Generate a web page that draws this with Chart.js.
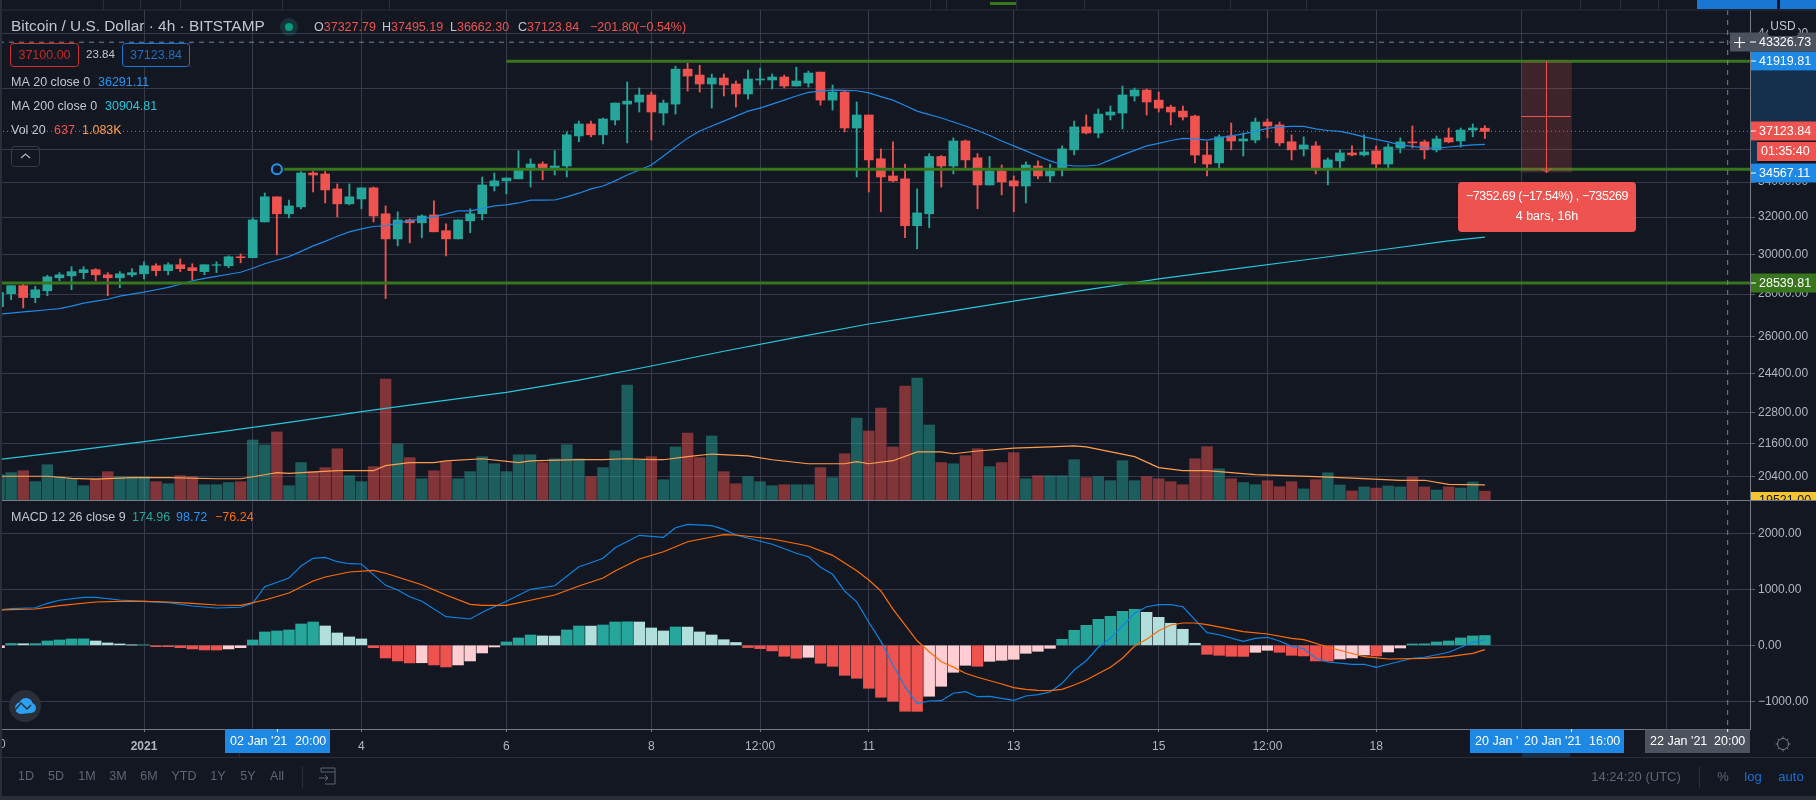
<!DOCTYPE html>
<html><head><meta charset="utf-8"><title>Bitcoin / U.S. Dollar 4h</title>
<style>html,body{margin:0;padding:0;background:#131722;overflow:hidden}canvas{display:block}</style>
<script src="https://cdn.jsdelivr.net/npm/chart.js@4"></script></head>
<body><canvas id="c" width="1816" height="800" style="width:1816px;height:800px"></canvas>
<script>
// bar index 0 = 1 Jan 2021 00:00, one bar = 4h
const firstBar = -12;
const open = [27390,28020,28410,27830,28160,28800,28900,29060,29210,28950,28800,28950,
29000,29410,29160,29460,29310,29110,29430,29410,29870,29820,31730,33140,32180,32570,34540,34480,33600,32740,33020,33660,
32180,30810,31840,31680,32120,31250,30810,31790,32180,33770,34070,34190,34720,35080,34840,34960,36830,37600,36900,37860,
38920,39060,39540,38320,38920,41350,40930,40300,40720,40300,39610,40580,40580,40790,40160,40370,41140,39190,39740,37340,
38190,35400,34360,34190,31520,32180,35540,34960,36510,35460,33830,34660,34070,33770,34960,34360,34720,35950,37410,37020,
38190,38320,39470,39880,39190,38720,38450,38120,35630,35150,36830,36510,36570,37730,37540,36460,36010,36200,34780,35270,
35760,35640,35890,35080,36070,36450,36450,35950,36710,36510,37210,37327.79];
const high = [28210,28410,28500,28380,28930,29060,29360,29360,29260,29060,29110,29260,
29610,29510,29560,29760,29510,29460,29610,29920,30020,31950,33360,33140,32960,34630,34630,34630,33890,33890,33660,33710,
32620,32290,31900,32120,32910,31620,31840,32460,34300,34540,34240,35900,35400,35210,35900,37090,37790,37790,37990,38990,
40440,40020,39740,39190,41560,41780,41630,41000,41000,40510,41280,41420,41000,40930,41490,41210,41140,40230,39810,39060,
38190,36010,36460,35080,33600,35720,35600,36710,36570,35720,35540,35020,34360,35210,35270,35080,36200,37790,38190,38590,
38790,40160,40020,39950,39740,38850,38790,38190,36460,36900,37660,37020,37990,37930,37730,36900,36770,36460,35450,35950,
36200,36900,36200,36330,36710,37470,36570,36830,37340,37340,37600,37495.19];
const low = [27300,27730,27340,27580,27920,28650,28210,28750,28650,27920,28310,28850,
28750,28900,28950,29110,28700,28950,29060,29310,29560,29820,31730,29970,31950,32460,33420,32790,32010,32680,32460,31730,
27780,30440,30600,30870,31190,29920,30810,31140,31840,33480,33310,34190,33710,34130,34420,34300,36460,36770,36330,37540,
36390,38390,36570,37540,38250,39810,39740,38650,39470,38720,39260,40230,39950,40020,40160,40090,38850,38520,37090,34300,
33420,32290,34010,30870,30280,31410,33710,34480,34840,32460,33830,33250,32290,32790,34190,34010,34360,35640,36960,36710,
37860,37280,39120,38190,38390,37540,37860,35150,34360,34840,35950,35570,36390,36710,36200,35330,35570,34480,33830,34840,
35570,35570,34840,34840,35760,36070,35390,35820,36390,36130,36770,36662.30];
const close = [28070,28410,27830,28210,28850,28950,29110,29210,28950,28800,29000,29060,
29410,29160,29460,29260,29160,29460,29460,29870,29820,31840,33140,32180,32620,34540,34420,33540,32740,33140,33660,32060,
30810,31840,31680,32060,31190,30810,31840,32180,33830,34070,34240,34780,35080,34720,34960,36900,37600,36900,37930,38990,
39120,39540,38390,38990,41350,40860,40300,40720,40230,39610,40650,40650,40790,40160,40510,41070,39190,39740,37340,38190,
35330,34300,34070,31520,32230,35540,34960,36510,35330,33830,34660,34010,33770,35020,34360,34660,36010,37410,37020,38250,
38390,39540,39880,39060,38650,38390,38060,35630,35080,36770,36510,36640,37730,37470,36390,35950,36260,34720,35330,35760,
35640,35820,35080,36130,36450,36390,35950,36640,36450,37210,37340,37123.84];
const volume = [1820,1970,2110,1320,2540,1680,1530,1030,1530,2040,1680,1680,
1680,1320,1170,1750,1680,1100,1100,1250,1320,4320,3960,4900,1030,2690,2040,2330,3690,1750,1320,2400,
8710,4030,3050,1530,2110,2760,1530,2040,3120,2610,2040,3260,3260,2690,2970,3980,2970,1680,2330,3550,
8280,2900,3120,1460,3820,4820,3050,4610,2040,1170,1680,1320,1030,1100,1100,1100,2330,1610,3330,5900,
4970,6620,3820,8210,8780,5400,2690,2610,3190,3690,2400,2690,3410,1530,1750,1750,1750,2900,1610,1680,
1390,2830,1390,1680,1530,1320,1100,2970,3840,2250,1530,1250,1100,1390,960,1320,800,1460,1960,1080,
650,940,860,1010,940,1660,940,720,940,860,1300,637];
const ma20 = [27040,27090,27150,27200,27250,27300,27420,27560,27660,27750,27900,28000,
28090,28210,28330,28480,28650,28770,28870,28980,29080,29280,29510,29690,29880,30150,30440,30680,30950,31190,31350,31480,
31520,31680,31790,31900,32010,32180,32340,32340,32470,32620,32680,32790,32950,32955,32960,33140,33350,33600,33770,34070,
34420,34720,35020,35570,36130,36690,37150,37470,37790,38120,38450,38650,38920,39190,39470,39720,39810,39880,39860,39830,
39680,39430,39190,38820,38450,38220,37990,37730,37470,37180,36860,36510,36200,35890,35570,35270,35050,34960,34960,35020,
35330,35640,35920,36200,36360,36540,36680,36640,36570,36710,36830,36960,37120,37310,37410,37450,37440,37280,37180,37120,
36960,36770,36610,36450,36260,36170,36070,36050,36130,36200,36260,36291.11];
const ma200Idx = [-12,-6,0,6,12,18,24,30,36,42,48,54,60,66,72,78,84,90,96,102,108,111];
const ma200 = [21016,21336,21680,22033,22418,22836,23225,23615,24119,24718,25356,25976,26583,27112,27656,28204,28743,29220,29703,30196,30701,30904.81];
const volMaIdx = [-12,-8,-6,-4,-1,2,6,8,10,11,12,16,19,20,22,24,25,28,31,32,36,38,40,42,43,45,47,50,52,55,58,59,60,62,64,66,67,69,72,75,77,78,82,84,86,88,92,97,100,104,106,108,111];
const volMa = [1710,1710,1550,1510,1610,1610,1530,1530,1820,1970,1910,2110,2110,2470,2690,2690,2810,2970,2690,2810,2900,2900,2970,2900,2900,3120,3310,3170,2900,2610,2610,2760,2610,2830,3460,3460,3330,3530,3740,3820,3890,3820,3120,2330,2110,2110,1820,1680,1580,1420,1420,1130,1083];
const macdIdx = [-12,-11,-9,-8,-7,-5,-4,-2,0,2,4,6,8,9,10,12,13,14,15,16,17,18,20,21,22,23,25,27,28,30,32,34,36,37,38,39,41,43,44,45,47,48,49,52,54,55,56,57,58,59,60,61,62,63,64,65,66,67,68,69,70,72,73,74,75,76,77,78,79,80,81,82,83,84,85,86,88,89,91,92,93,94,95,96,97,98,100,101,102,103,105,106,108,110,111];
const macdLine = [630,654,671,750,804,857,857,809,786,761,702,666,679,750,1046,1202,1416,1554,1571,1493,1457,1452,1071,988,868,786,511,470,589,786,1000,1064,1404,1475,1554,1743,1964,1929,2100,2161,2136,2071,1970,1804,1643,1582,1393,1268,970,775,411,70,-352,-739,-1043,-995,-989,-857,-829,-918,-911,-982,-905,-882,-834,-679,-441,-275,-36,125,345,571,689,725,725,689,225,189,71,125,143,77,-18,-60,-232,-298,-339,-339,-393,-339,-232,-214,-125,54,98.72];
const signalIdx = [-12,-9,-7,-4,-2,0,2,4,6,8,10,12,14,15,17,19,20,23,25,27,28,30,32,34,36,38,39,41,43,45,47,48,49,52,55,57,59,60,61,62,64,65,66,67,68,69,71,72,73,74,75,76,77,78,80,81,82,83,84,85,86,87,88,91,93,95,96,98,101,103,106,108,110,111];
const signalLine = [630,648,707,773,786,786,773,750,720,714,809,934,1148,1220,1309,1339,1286,1082,898,732,714,714,804,898,1059,1202,1327,1541,1671,1850,1934,1975,1970,1898,1773,1607,1332,1166,970,645,80,-114,-293,-390,-500,-571,-691,-757,-786,-804,-811,-786,-709,-620,-393,-232,-12,107,261,362,398,398,368,243,202,125,100,-30,-204,-245,-232,-204,-143,-76.24];
const histogram = [-42,32,28,30,77,95,113,115,77,42,24,5,
7,-24,-25,-42,-65,-83,-84,-65,-42,95,238,256,274,381,416,345,220,149,113,-42,
-226,-280,-315,-312,-351,-387,-351,-280,-137,-30,60,131,184,167,165,274,345,343,363,416,
420,416,309,256,327,325,238,184,100,50,-40,-60,-100,-196,-232,-214,-321,-375,-536,-589,
-768,-928,-1000,-1178,-1180,-910,-732,-482,-357,-375,-286,-268,-250,-143,-107,-54,107,268,357,464,
518,607,643,589,500,393,286,36,-161,-179,-196,-198,-125,-89,-125,-179,-190,-280,-282,-244,
-226,-173,-190,-119,-48,24,26,60,77,131,167,174.96];
const priceTicks = [44000,40000,36000,34000,32000,30000,28000,26000,24400,22800,21600,20400];
const macdTicks = [2000,1000,0,-1000];
const xTickIdx = [0,9,18,30,42,51,60,72,84,93,102,114,126];
const xTickLabels = ['2021','2','4','6','8','12:00','11','13','15','12:00','18','20','22'];
const levels = [41919.81,34760,28539.81];
const levelStart = [30,11.6,-12];
const rangeTop = 41919.81, rangeBottom = 34567.11, rangeStart = 114, rangeEnd = 118.2;
const lastPrice = 37123.84, crossPrice = 43326.73, crossBar = 131.1, anchorBar = 11;

const barIdx = open.map((_, k) => firstBar + k);
const X_MIN = -11.755, X_MAX = 132.947;
const G='#26a69a', R='#ef5350';
const up = barIdx.map((_, k) => close[k] >= open[k]);
const pts = (xs, ys) => xs.map((x, k) => ({x, y: ys[k]}));
const line = (o) => Object.assign({type:'line', pointRadius:0, borderWidth:1.2, tension:0, fill:false, yAxisID:'y', spanGaps:true}, o);

const datasets = [
 {type:'bar', order:20, yAxisID:'yV', grouped:false, maxBarThickness:10.8, barThickness:10.8,
  data: pts(barIdx, volume), backgroundColor: up.map(u => u ? 'rgba(38,166,154,0.5)' : 'rgba(239,83,80,0.5)')},
 line({order:19, yAxisID:'yV', borderColor:'#ff9d4d', data: pts(volMaIdx, volMa)}),
 {type:'bar', order:18, yAxisID:'yM', grouped:false, maxBarThickness:10.8, barThickness:10.8,
  data: pts(barIdx, histogram),
  backgroundColor: histogram.map((h, k) => { const rising = k === 0 || h > histogram[k-1];
     return h >= 0 ? (rising ? G : '#b2dfdb') : (rising ? '#ffcdd2' : R); })},
 line({order:17, yAxisID:'yM', borderColor:'#0b84e3', data: pts(macdIdx, macdLine)}),
 line({order:16, yAxisID:'yM', borderColor:'#ff6d00', data: pts(signalIdx, signalLine)}),
 line({order:15, borderColor:'#26c6da', data: pts(ma200Idx, ma200)}),
 {type:'bar', order:14, yAxisID:'y', grouped:false, maxBarThickness:1.2, barThickness:1.2,
  data: barIdx.map((x, k) => ({x, y:[low[k], high[k]]})), backgroundColor: up.map(u => u ? G : R)},
 {type:'bar', order:13, yAxisID:'y', grouped:false, maxBarThickness:9, barThickness:9,
  data: barIdx.map((x, k) => ({x, y:[Math.min(open[k],close[k]), Math.max(open[k],close[k])]})), backgroundColor: up.map(u => u ? G : R)},
 line({order:12, borderColor:'#1e88e5', data: pts(barIdx, ma20)}),
 ...levels.map((v, k) => line({order:11, borderColor:'#38761d', borderWidth:3, data:[{x:levelStart[k], y:v},{x:X_MAX, y:v}]})),
 line({order:10, borderColor:'#ef5350', borderWidth:1, borderDash:[1,3], data:[{x:-12, y:lastPrice},{x:X_MAX, y:lastPrice}]}),
 line({order:9, borderColor:'#758696', borderWidth:1, borderDash:[5,5], data:[{x:-12, y:crossPrice},{x:X_MAX, y:crossPrice}]}),
];

const FF = '"Liberation Sans", Arial, sans-serif';
const overlay = {
 id:'overlay',
 beforeDraw(ch){ const c=ch.ctx; c.save(); c.fillStyle='#131722'; c.fillRect(0,0,1816,800); c.restore(); },
 afterDraw(ch){
  const c=ch.ctx, sx=ch.scales.x, sy=ch.scales.y;
  const T=(s,x,y,col,size=12.5,align='left',weight='')=>{c.fillStyle=col;c.font=`${weight} ${size}px ${FF}`;c.textAlign=align;c.textBaseline='middle';c.fillText(s,x,y);};
  const box=(x,y,w,h,col,r=0)=>{c.fillStyle=col;c.beginPath();c.roundRect(x,y,w,h,r);c.fill();};
  const hl=(x1,x2,y,col,lw=1)=>{c.strokeStyle=col;c.lineWidth=lw;c.beginPath();c.moveTo(x1,y);c.lineTo(x2,y);c.stroke();};
  const vl=(x,y1,y2,col,lw=1)=>{c.strokeStyle=col;c.lineWidth=lw;c.beginPath();c.moveTo(x,y1);c.lineTo(x,y2);c.stroke();};
  c.save();
  // trend-line anchor handle
  c.fillStyle='#131722';c.strokeStyle='#2196f3';c.lineWidth=2;c.beginPath();c.arc(sx.getPixelForValue(anchorBar),sy.getPixelForValue(levels[1]),5,0,7);c.fill();c.stroke();c.lineWidth=1;
  // pane separator, frame
  hl(2,1816,500.5,'#787b86');
  // crosshair
  const cx=sx.getPixelForValue(crossBar);
  c.setLineDash([5,5]); vl(cx,10,729,'#758696'); c.setLineDash([]);
  // price range tool
  const rx1=sx.getPixelForValue(rangeStart), rx2=sx.getPixelForValue(rangeEnd), ry1=sy.getPixelForValue(rangeTop), ry2=sy.getPixelForValue(rangeBottom);
  c.fillStyle='rgba(239,83,80,0.2)'; c.fillRect(rx1,ry1,rx2-rx1,ry2-ry1);
  const mx=(rx1+rx2)/2; vl(mx,ry1,ry2,R); hl(rx1,rx2-1,Math.round((ry1+ry2)/2)-.5,R);
  c.strokeStyle=R;c.beginPath();c.moveTo(mx-5,ry2-4);c.lineTo(mx,ry2);c.lineTo(mx+5,ry2-4);c.stroke();
  box(1458,182,178,50,R,4);
  c.letterSpacing='-0.4px';
  T('\u22127352.69 (\u221217.54%) , \u2212735269',1547,197,'#fff',12.5,'center');
  c.letterSpacing='0px';
  T('4 bars, 16h',1547,217,'#fff',12.5,'center');
  // top strip
  c.fillStyle='#131722'; c.fillRect(0,0,1816,10); hl(0,1816,10,'#2a2e39');
  [103,140,180,282,389,930,946,1016,1084,1230,1306,1580,1620,1658].forEach(x=>vl(x+.5,0,10,'#2a2e39'));
  box(990,2,26,3,'#38761d'); box(1697,0,80,9,'#1976d2'); box(1780,0,36,9,'#1976d2');
  // left frame
  c.fillStyle='#2a2e39'; c.fillRect(0,0,2,800); c.fillRect(0,796,1816,4);
  // legends
  T('Bitcoin / U.S. Dollar \u00b7 4h \u00b7 BITSTAMP',11,27,'#c3c6ce',15.4);
  c.fillStyle='rgba(38,166,154,0.2)';c.beginPath();c.arc(289,27,9,0,7);c.fill();
  c.fillStyle='#089981';c.beginPath();c.arc(289,27,4,0,7);c.fill();
  [['O',314,'37327.79'],['H',382,'37495.19'],['L',450,'36662.30'],['C',518,'37123.84']].forEach(([a,x,v])=>{T(a,x,28,'#c3c6ce',12.5);const w=c.measureText(a).width;T(v,x+w,28,R,12.5);});
  T('\u2212201.80',590,28,R,12.5); T('(\u22120.54%)',635,28,R,12.5);
  c.fillStyle='#131722';
  c.strokeStyle='#d32f2f';c.lineWidth=1;c.beginPath();c.roundRect(10.5,43.5,68,23,3);c.fill();c.stroke();
  T('37100.00',44.5,55.5,'#c62828',12.5,'center');
  T('23.84',100.5,55,'#c3c6ce',11.5,'center');
  c.fillStyle='#131722';c.strokeStyle='#1976d2';c.beginPath();c.roundRect(122.5,43.5,67,23,3);c.fill();c.stroke();
  T('37123.84',156,55.5,'#1e6fc0',12.5,'center');
  T('MA 20 close 0',11,83,'#c3c6ce'); T('36291.11',98,83,'#2196f3');
  T('MA 200 close 0',11,107,'#c3c6ce'); T('30904.81',105,107,'#26c6da');
  T('Vol 20',11,131,'#c3c6ce'); T('637',54,131,R); T('1.083K',82,131,'#ff9d4d');
  c.strokeStyle='#363a45';c.beginPath();c.roundRect(11.5,146.5,28,20,3);c.stroke();
  c.strokeStyle='#b2b5be';c.lineWidth=1.2;c.beginPath();c.moveTo(21,158);c.lineTo(25.5,154);c.lineTo(30,158);c.stroke();c.lineWidth=1;
  T('MACD 12 26 close 9',11,518,'#c3c6ce'); T('174.96',132,518,G); T('98.72',176,518,'#2196f3'); T('\u221276.24',215,518,'#ff6d00');
  // logo
  c.fillStyle='#2a2e39';c.beginPath();c.arc(25,706,16,0,7);c.fill();
  c.fillStyle='#2ba1f3';c.beginPath();c.arc(21,708,6,Math.PI*.5,Math.PI*1.5);c.arc(26,705,7,Math.PI,0);c.arc(31,708,5,Math.PI*1.5,Math.PI*.5);c.closePath();c.fill();
  c.strokeStyle='#2a2e39';c.lineWidth=1.5;c.beginPath();c.moveTo(15,710);c.lineTo(21,703);c.lineTo(27,709);c.lineTo(31,705);c.stroke();c.lineWidth=1;
  // right axis widgets
  c.fillStyle='#15304d'; c.fillRect(1751,71,65,51); c.fillRect(1751,141,6,22);
  const lab=(v,col,txt,x=1751)=>{const y=Math.round(sy.getPixelForValue(v));box(x,y-9.5,1816-x,19,col);hl(1751,1756,y,'#fff');T(txt||v.toFixed(2),1759,y+.5,'#fff',12.5,'left');};
  lab(rangeTop,'#1e88e5'); lab(rangeBottom,'#1e88e5');
  lab(levels[2],'#38761d'); lab(lastPrice,R);
  box(1757,142,59,19,R); T('01:35:40',1761,151.5,'#fff',12.5);
  const cy=Math.round(sy.getPixelForValue(crossPrice));
  box(1730,cy-9.5,86,19,'#4c525e'); hl(1750,1756,cy,'#fff'); T('43326.73',1759,cy+.5,'#fff',12.5);
  c.strokeStyle='#fff';c.lineWidth=1.2;c.beginPath();c.moveTo(1734,cy+.5);c.lineTo(1745,cy+.5);c.moveTo(1739.5,cy-5);c.lineTo(1739.5,cy+6);c.stroke();c.lineWidth=1;
  box(1768,17,30,19,'#131722',3); T('USD',1783,26.5,'#c3c6ce',12,'center');
  c.save();c.beginPath();c.rect(1750,492,66,8);c.clip();box(1751,492,65,8,'#f5c531');T('19521.00',1759,501,'#131722',12.5);c.restore();
  hl(1750,1816,500.5,'#787b86');
  // time axis widgets
  const xlab=(x,w,col,parts)=>{box(x,729.5,w,23.5,col);parts.forEach(p=>T(p[0],p[1],741.5,'#fff',12.5));};
  xlab(225,105,'#1e88e5',[['02 Jan \'21',230],['20:00',295]]);
  xlab(1470,154,'#1e88e5',[['20 Jan \'',1475],['20 Jan \'21',1524],['16:00',1589]]);
  xlab(1645,105,'#4c525e',[['22 Jan \'21',1650],['20:00',1714]]);
  vl(277.5,729,732,'#fff'); vl(1571.5,729,732,'#fff'); vl(cx,729,732,'#fff');
  c.save();c.beginPath();c.rect(2,730,20,26);c.clip();T('30',-1,745,'#b2b5be',12,'center');c.restore();
  hl(2,1816,757.5,'#2a2e39');
  box(1522,753,48,4,'#15304d'); box(239,753,1,4,'#15304d');
  // gear
  c.strokeStyle='#787b86';c.lineWidth=1;c.beginPath();c.arc(1783,744,5.5,0,7);c.stroke();
  for(let a=0;a<8;a++){const q=a*Math.PI/4;c.beginPath();c.moveTo(1783+5.5*Math.cos(q),744+5.5*Math.sin(q));c.lineTo(1783+7.5*Math.cos(q),744+7.5*Math.sin(q));c.stroke();}
  // bottom bar
  [['1D',26],['5D',56],['1M',87],['3M',118],['6M',149],['YTD',184],['1Y',218],['5Y',248],['All',277]].forEach(([s,x])=>T(s,x,777,'#5f6573',12.5,'center'));
  vl(302.5,766,788,'#2a2e39');
  c.strokeStyle='#5f6573';c.beginPath();c.moveTo(321,772);c.lineTo(321,768);c.lineTo(335,768);c.lineTo(335,784);c.lineTo(325,784);c.moveTo(319,778);c.lineTo(328,778);c.moveTo(325,775);c.lineTo(328,778);c.lineTo(325,781);c.moveTo(321,772);c.lineTo(335,772);c.stroke();
  T('14:24:20 (UTC)',1636,777,'#5f6573',13,'center');
  vl(1699.5,766,788,'#2a2e39');
  T('%',1723,777,'#5f6573',13,'center'); T('log',1753,777,'#1e6fd0',13,'center'); T('auto',1791,777,'#1e6fd0',13,'center');
  c.restore();
 }
};

const noPad = s => { s.paddingLeft=0; s.paddingRight=0; s.paddingTop=0; s.paddingBottom=0; };
new Chart(document.getElementById('c'), {
 type:'bar', data:{datasets}, plugins:[overlay],
 options:{
  responsive:false, devicePixelRatio:1, animation:false, maintainAspectRatio:false,
  events:[], layout:{padding:{left:2,top:10,right:0,bottom:43}},
  plugins:{legend:{display:false},tooltip:{enabled:false}},
  scales:{
   x:{type:'linear',min:X_MIN,max:X_MAX,offset:false,
      grid:{offset:false,color:'#363a4a',lineWidth:1,tickLength:3,tickColor:'#787b86'},
      border:{display:true,color:'#787b86'},
      afterBuildTicks(s){s.ticks=xTickIdx.map(value=>({value}));},
      afterFit(s){s.height=28;noPad(s);},
      ticks:{autoSkip:false,maxRotation:0,padding:7,color:'#b2b5be',
        font:ctx=>({family:FF,size:12,weight:ctx.tick&&ctx.tick.label==='2021'?'bold':'normal'}),
        callback:v=>xTickLabels[xTickIdx.indexOf(v)]}},
   y:{type:'logarithmic',position:'right',stack:'panes',stackWeight:490,weight:0,min:19594,max:45815,
      grid:{color:'#363a4a',tickLength:5,tickColor:'#5d606b'},border:{display:true,color:'#787b86'},
      afterBuildTicks(s){s.ticks=priceTicks.map(value=>({value}));},
      afterFit(s){s.width=66;noPad(s);},
      ticks:{autoSkip:false,padding:3,color:'#b2b5be',font:{family:FF,size:12},callback:v=>Number(v).toFixed(2)}},
   yM:{type:'linear',position:'right',stack:'panes',stackWeight:229,weight:1,min:-1495,max:2595,
      grid:{color:'#363a4a',tickLength:5,tickColor:'#5d606b'},border:{display:true,color:'#787b86'},
      afterBuildTicks(s){s.ticks=macdTicks.map(value=>({value}));},
      afterFit(s){s.width=66;noPad(s);},
      ticks:{autoSkip:false,padding:3,color:'#b2b5be',font:{family:FF,size:12},callback:v=>(v<0?'\u2212':'')+Math.abs(v).toFixed(2)}},
   yV:{type:'linear',display:false,min:-16488,max:35280}
  }
 }
});
</script></body></html>
